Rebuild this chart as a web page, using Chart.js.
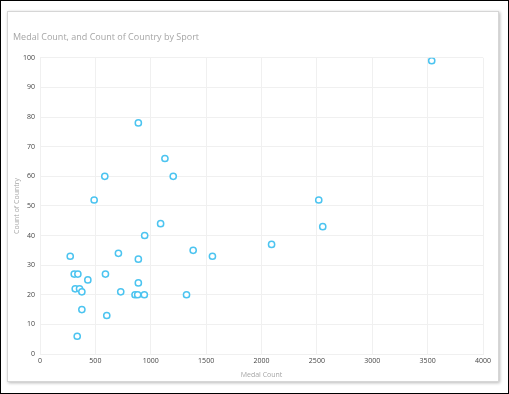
<!DOCTYPE html>
<html>
<head>
<meta charset="utf-8">
<script src="https://cdn.jsdelivr.net/npm/chart.js@4"></script>
<style>
    html, body { margin: 0; padding: 0; background: #fff; }
    #frame { position: relative; width: 509px; height: 394px; box-sizing: border-box; border: 1px solid #000; overflow: hidden; }
    #panel { position: absolute; left: 6px; top: 10px; width: 490px; height: 369px; border: 1px solid #d6d6d6; box-shadow: 1px 1px 3px rgba(0,0,0,0.28); background: #fff; }
    #wrap { position: absolute; left: 0; top: 0; width: 509px; height: 394px; }
</style>
</head>
<body>
<div id="frame">
    <div id="panel"></div>
    <div id="wrap"><canvas id="chart"></canvas></div>
</div>
<script>
// values: medal count and number of countries, one per sport
const medalCount = [3537, 888, 1128, 1203, 585, 489, 2517, 2553, 1089, 945, 2091, 1383, 1557, 273, 708, 888,
    309, 342, 591, 432, 318, 357, 378, 888, 729, 858, 882, 942, 1323, 378, 603, 336];
const countryCount = [99, 78, 66, 60, 60, 52, 52, 43, 44, 40, 37, 35, 33, 33, 34, 32,
    27, 27, 27, 25, 22, 22, 21, 24, 21, 20, 20, 20, 20, 15, 13, 6];

const chartTitle = 'Medal Count, and Count of Country by Sport';
const xTitle = 'Medal Count';
const yTitle = 'Count of Country';

const points = medalCount.map((x, i) => ({ x: x, y: countryCount[i] }));

const font = "'Open Sans', 'Noto Sans', sans-serif";
const gridColor = '#f0f0f0';

new Chart(document.getElementById('chart'), {
    type: 'scatter',
    data: {
        datasets: [{
            label: yTitle,
            data: points,
            borderColor: '#4cc4f0',
            backgroundColor: '#ffffff',
            borderWidth: 1.5,
            pointRadius: 3.1,
            pointHoverRadius: 3.1
        }]
    },
    options: {
        responsive: true,
        maintainAspectRatio: false,
        animation: false,
        layout: { padding: { left: 12, right: 27, top: 31, bottom: 16 } },
        plugins: {
            legend: { display: false },
            tooltip: { enabled: false },
            title: {
                display: true,
                text: chartTitle,
                align: 'start',
                color: '#a6a6a6',
                font: { family: font, size: 9, weight: 'normal' },
                padding: { top: 0, bottom: 15 }
            }
        },
        scales: {
            x: {
                type: 'linear',
                min: 0,
                max: 4000,
                ticks: { stepSize: 500, color: '#444', font: { family: font, size: 7 }, padding: 3, maxRotation: 0,
                    callback: (v) => String(v) },
                grid: { color: gridColor, drawTicks: false },
                border: { color: gridColor },
                title: { display: true, text: xTitle, color: '#a6a6a6', font: { family: font, size: 7 }, padding: { top: 1, bottom: 0 } },
                afterFit: (scale) => { scale.height = 25; }
            },
            y: {
                min: 0,
                max: 100,
                ticks: { stepSize: 10, color: '#444', font: { family: font, size: 7 }, padding: 5,
                    callback: (v) => String(v) },
                grid: { color: gridColor, drawTicks: false },
                border: { color: gridColor },
                title: { display: true, text: yTitle, color: '#a6a6a6', font: { family: font, size: 7 }, padding: { top: 0, bottom: 0, left: 2 } },
                afterFit: (scale) => { scale.width = 27; }
            }
        }
    }
});
</script>
</body>
</html>
